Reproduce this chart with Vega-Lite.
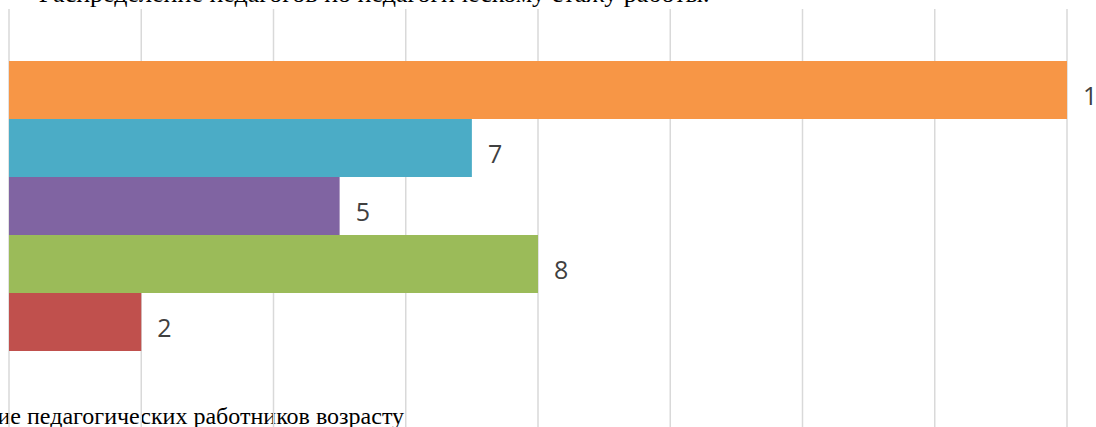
{
  "$schema": "https://vega.github.io/schema/vega-lite/v6.json",
  "autosize": {"type": "none"},
  "padding": {"left": 9, "top": 9, "right": 29, "bottom": 0},
  "width": 1058,
  "height": 418,
  "background": "white",
  "config": {"view": {"stroke": null}},
  "title": {
    "text": "Распределение педагогов по педагогическому стажу работы.",
    "anchor": "end",
    "dx": -402,
    "dy": 20,
    "baseline": "alphabetic",
    "offset": 0,
    "font": "Liberation Serif",
    "fontSize": 26,
    "fontWeight": "normal",
    "color": "black"
  },
  "datasets": {
    "bars": [
      {"group": "g1", "value": 16},
      {"group": "g2", "value": 7},
      {"group": "g3", "value": 5},
      {"group": "g4", "value": 8},
      {"group": "g5", "value": 2}
    ],
    "grid": [
      {"value": 0}, {"value": 2}, {"value": 4}, {"value": 6}, {"value": 8},
      {"value": 10}, {"value": 12}, {"value": 14}, {"value": 16}
    ]
  },
  "layer": [
    {
      "data": {"name": "grid"},
      "mark": {"type": "rule", "color": "#d9d9d9", "strokeWidth": 1.5},
      "encoding": {
        "x": {"field": "value", "type": "quantitative"}
      }
    },
    {
      "data": {"name": "bars"},
      "mark": {"type": "bar"},
      "encoding": {
        "y": {
          "field": "group",
          "type": "nominal",
          "sort": null,
          "scale": {"paddingInner": 0, "paddingOuter": 0, "range": [52, 342]},
          "axis": null
        },
        "x": {
          "field": "value",
          "type": "quantitative",
          "scale": {"domain": [0, 16], "nice": false},
          "axis": {
            "labels": false,
            "ticks": false,
            "domain": false,
            "grid": false,
            "title": "ие педагогических работников возрасту",
            "titleFont": "Liberation Serif",
            "titleFontSize": 24,
            "titleFontWeight": "normal",
            "titleColor": "black",
            "titleAlign": "left",
            "titleX": -12,
            "titleY": -4,
            "titleBaseline": "alphabetic"
          }
        },
        "color": {
          "field": "group",
          "type": "nominal",
          "sort": null,
          "scale": {"range": ["#F79646", "#4BACC6", "#8064A2", "#9BBB59", "#C0504D"]},
          "legend": null
        }
      }
    },
    {
      "data": {"name": "bars"},
      "mark": {"type": "text", "align": "left", "baseline": "middle", "dx": 16, "dy": 7, "font": "Open Sans", "fontSize": 25, "color": "#404040"},
      "encoding": {
        "y": {"field": "group", "type": "nominal", "sort": null},
        "x": {"field": "value", "type": "quantitative"},
        "text": {"field": "value", "type": "quantitative"}
      }
    }
  ]
}
